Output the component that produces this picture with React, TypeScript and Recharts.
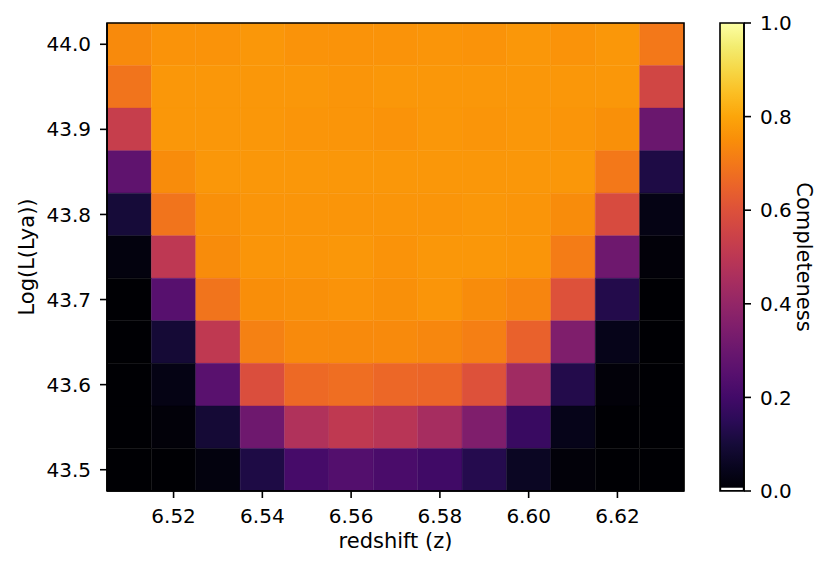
import { ReferenceArea, Scatter, ScatterChart, XAxis, YAxis } from "recharts";

// bin centres
const redshifts = [6.51, 6.52, 6.53, 6.54, 6.55, 6.56, 6.57, 6.58, 6.59, 6.6, 6.61, 6.62, 6.63];
const logLya = [44.0, 43.95, 43.9, 43.85, 43.8, 43.75, 43.7, 43.65, 43.6, 43.55, 43.5];

// completeness per luminosity row (top to bottom), one value per redshift bin
const row4400 = [0.74, 0.76, 0.76, 0.77, 0.76, 0.76, 0.76, 0.765, 0.76, 0.77, 0.76, 0.77, 0.7];
const row4395 = [0.69, 0.77, 0.77, 0.77, 0.77, 0.765, 0.77, 0.77, 0.77, 0.77, 0.77, 0.77, 0.56];
const row4390 = [0.53, 0.77, 0.77, 0.77, 0.765, 0.765, 0.76, 0.77, 0.765, 0.77, 0.765, 0.755, 0.3];
const row4385 = [0.27, 0.745, 0.77, 0.77, 0.77, 0.77, 0.77, 0.77, 0.77, 0.77, 0.77, 0.7, 0.12];
const row4380 = [0.1, 0.69, 0.755, 0.765, 0.765, 0.765, 0.765, 0.765, 0.77, 0.765, 0.745, 0.58, 0.03];
const row4375 = [0.02, 0.505, 0.745, 0.765, 0.765, 0.77, 0.76, 0.77, 0.77, 0.765, 0.71, 0.31, 0.01];
const row4370 = [0.0, 0.25, 0.69, 0.75, 0.755, 0.76, 0.755, 0.765, 0.745, 0.73, 0.6, 0.13, 0.0];
const row4365 = [0.0, 0.095, 0.51, 0.72, 0.74, 0.74, 0.74, 0.735, 0.715, 0.645, 0.35, 0.04, 0.0];
const row4360 = [0.0, 0.03, 0.255, 0.59, 0.665, 0.675, 0.66, 0.655, 0.6, 0.43, 0.13, 0.01, 0.0];
const row4355 = [0.0, 0.01, 0.095, 0.31, 0.47, 0.51, 0.49, 0.445, 0.35, 0.18, 0.04, 0.0, 0.0];
const row4350 = [0.0, 0.0, 0.02, 0.12, 0.21, 0.24, 0.22, 0.195, 0.135, 0.06, 0.01, 0.0, 0.0];
const completeness = [row4400, row4395, row4390, row4385, row4380, row4375, row4370, row4365, row4360, row4355, row4350];

const zTicks = [6.52, 6.54, 6.56, 6.58, 6.6, 6.62];
const lTicks = [43.5, 43.6, 43.7, 43.8, 43.9, 44.0];
const cbarTicks = [0, 0.2, 0.4, 0.6, 0.8, 1.0];

const DZ = 0.01;
const DL = 0.05;

// inferno, sampled every 0.05
const INFERNO = [
  "#000004", "#08051e", "#160b39", "#2b0b57", "#420a68", "#57106e", "#6a176e",
  "#7f1e6c", "#932667", "#a82e5f", "#bc3754", "#cd4347", "#dd513a", "#ea632a",
  "#f37819", "#f98e09", "#fca50a", "#fbbe23", "#f6d746", "#f3ec70", "#fcffa4",
];

const hexToRgb = (h: string) => [1, 3, 5].map((i) => parseInt(h.slice(i, i + 2), 16));

function inferno(t: number) {
  const v = Math.min(1, Math.max(0, t)) * (INFERNO.length - 1);
  const i = Math.min(INFERNO.length - 2, Math.floor(v));
  const f = v - i;
  const a = hexToRgb(INFERNO[i]);
  const b = hexToRgb(INFERNO[i + 1]);
  const c = a.map((x, k) => Math.round(x + (b[k] - x) * f));
  return `rgb(${c[0]},${c[1]},${c[2]})`;
}

const cells = logLya.flatMap((l, r) =>
  redshifts.map((z, c) => ({ z, l, value: completeness[r][c] }))
);

const font = "DejaVu Sans, sans-serif";
const tickStyle = { fill: "#000", fontSize: 20, fontFamily: font };
const lineStyle = { stroke: "#000", strokeWidth: 1.6 };

export default function App() {
  return (
    <div style={{ position: "absolute", left: 0, top: 0, width: 830, height: 572, background: "#fff" }}>
      <ScatterChart width={830} height={572} margin={{ top: 23, right: 146, bottom: 21, left: 0 }}>
        <XAxis
          type="number"
          dataKey="z"
          domain={[6.505, 6.635]}
          ticks={zTicks}
          allowDataOverflow
          height={60}
          tickSize={7}
          tickMargin={11}
          tick={tickStyle}
          tickLine={lineStyle}
          axisLine={lineStyle}
          tickFormatter={(v: number) => v.toFixed(2)}
          label={{ value: "redshift (z)", position: "insideBottom", offset: 3, fill: "#000", fontSize: 21, fontFamily: font }}
        />
        <YAxis
          type="number"
          dataKey="l"
          domain={[43.475, 44.025]}
          ticks={lTicks}
          allowDataOverflow
          width={107}
          tickSize={7}
          tickMargin={9}
          tick={tickStyle}
          tickLine={lineStyle}
          axisLine={lineStyle}
          tickFormatter={(v: number) => v.toFixed(1)}
          label={{
            value: "Log(L(Lya))",
            angle: -90,
            position: "insideLeft",
            offset: 27,
            fill: "#000",
            fontSize: 21,
            fontFamily: font,
            style: { textAnchor: "middle" },
          }}
        />
        {cells.map((d) => {
          const fill = inferno(d.value);
          return (
            <ReferenceArea
              key={`${d.z}-${d.l}`}
              x1={d.z - DZ / 2}
              x2={d.z + DZ / 2}
              y1={d.l - DL / 2}
              y2={d.l + DL / 2}
              fill={fill}
              fillOpacity={1}
              stroke={fill}
              strokeWidth={0.4}
              ifOverflow="visible"
            />
          );
        })}
        <ReferenceArea
          x1={6.505}
          x2={6.635}
          y1={43.475}
          y2={44.025}
          fill="none"
          stroke="#000"
          strokeWidth={1.6}
          ifOverflow="visible"
        />
        <Scatter data={cells} isAnimationActive={false} shape={() => <g />} />
      </ScatterChart>

      {/* colour bar */}
      <div style={{ position: "absolute", left: 700, top: 0 }}>
        <ScatterChart width={130} height={572} margin={{ top: 23, right: 0, bottom: 81, left: 20 }}>
          <defs>
            <linearGradient id="infernoBar" x1="0" y1="1" x2="0" y2="0">
              {INFERNO.map((c, i) => (
                <stop key={c} offset={i / (INFERNO.length - 1)} stopColor={c} />
              ))}
            </linearGradient>
          </defs>
          <XAxis type="number" dataKey="x" domain={[0, 1]} hide />
          <YAxis
            type="number"
            dataKey="y"
            orientation="right"
            domain={[0, 1]}
            ticks={cbarTicks}
            width={86}
            tickSize={7}
            tickMargin={9}
            tick={{ ...tickStyle, textAnchor: "start" }}
            tickLine={lineStyle}
            axisLine={lineStyle}
            tickFormatter={(v: number) => v.toFixed(1)}
            label={{
              value: "Completeness",
              angle: 90,
              position: "insideRight",
              offset: 26,
              fill: "#000",
              fontSize: 21,
              fontFamily: font,
              style: { textAnchor: "middle" },
            }}
          />
          <ReferenceArea x1={0} x2={1} y1={0} y2={1} fill="url(#infernoBar)" fillOpacity={1} ifOverflow="visible" />
          <ReferenceArea x1={0.05} x2={0.95} y1={0.002} y2={0.007} fill="#fff" fillOpacity={1} ifOverflow="visible" />
          <ReferenceArea
            x1={0}
            x2={1}
            y1={0}
            y2={1}
            fill="none"
            stroke="#000"
            strokeWidth={1.6}
            ifOverflow="visible"
          />
          <Scatter data={[{ x: 0.5, y: 0.5 }]} isAnimationActive={false} shape={() => <g />} />
        </ScatterChart>
      </div>
    </div>
  );
}
